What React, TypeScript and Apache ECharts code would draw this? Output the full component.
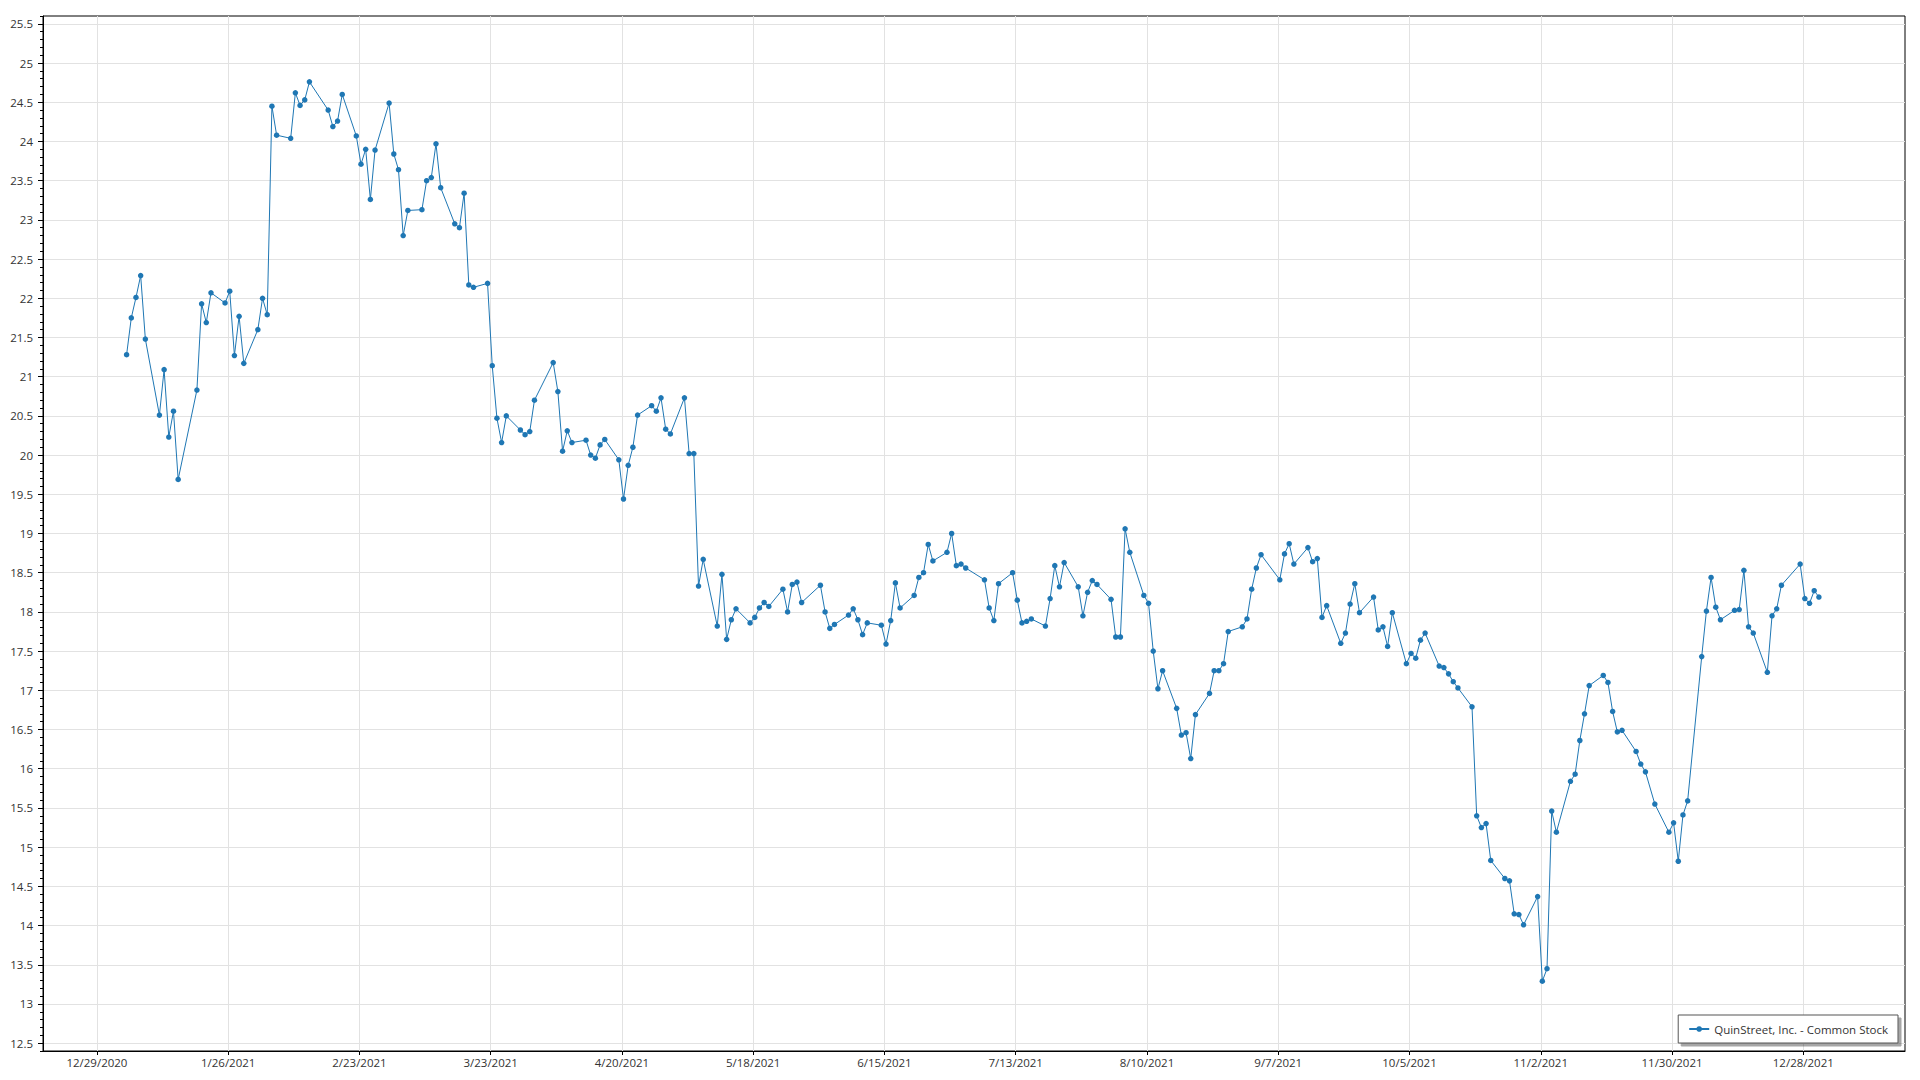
import React, { useEffect, useRef } from "react";
import * as echarts from "echarts";

const seriesName = "QuinStreet, Inc. - Common Stock";

const tradingDays = [
  "2021-01-04","2021-01-05","2021-01-06","2021-01-07","2021-01-08","2021-01-11","2021-01-12","2021-01-13","2021-01-14","2021-01-15","2021-01-19","2021-01-20","2021-01-21","2021-01-22","2021-01-25","2021-01-26","2021-01-27","2021-01-28","2021-01-29",
  "2021-02-01","2021-02-02","2021-02-03","2021-02-04","2021-02-05","2021-02-08","2021-02-09","2021-02-10","2021-02-11","2021-02-12","2021-02-16","2021-02-17","2021-02-18","2021-02-19","2021-02-22","2021-02-23","2021-02-24","2021-02-25","2021-02-26",
  "2021-03-01","2021-03-02","2021-03-03","2021-03-04","2021-03-05","2021-03-08","2021-03-09","2021-03-10","2021-03-11","2021-03-12","2021-03-15","2021-03-16","2021-03-17","2021-03-18","2021-03-19","2021-03-22","2021-03-23","2021-03-24","2021-03-25","2021-03-26","2021-03-29","2021-03-30","2021-03-31",
  "2021-04-01","2021-04-05","2021-04-06","2021-04-07","2021-04-08","2021-04-09","2021-04-12","2021-04-13","2021-04-14","2021-04-15","2021-04-16","2021-04-19","2021-04-20","2021-04-21","2021-04-22","2021-04-23","2021-04-26","2021-04-27","2021-04-28","2021-04-29","2021-04-30",
  "2021-05-03","2021-05-04","2021-05-05","2021-05-06","2021-05-07","2021-05-10","2021-05-11","2021-05-12","2021-05-13","2021-05-14","2021-05-17","2021-05-18","2021-05-19","2021-05-20","2021-05-21","2021-05-24","2021-05-25","2021-05-26","2021-05-27","2021-05-28",
  "2021-06-01","2021-06-02","2021-06-03","2021-06-04","2021-06-07","2021-06-08","2021-06-09","2021-06-10","2021-06-11","2021-06-14","2021-06-15","2021-06-16","2021-06-17","2021-06-18","2021-06-21","2021-06-22","2021-06-23","2021-06-24","2021-06-25","2021-06-28","2021-06-29","2021-06-30",
  "2021-07-01","2021-07-02","2021-07-06","2021-07-07","2021-07-08","2021-07-09","2021-07-12","2021-07-13","2021-07-14","2021-07-15","2021-07-16","2021-07-19","2021-07-20","2021-07-21","2021-07-22","2021-07-23","2021-07-26","2021-07-27","2021-07-28","2021-07-29","2021-07-30",
  "2021-08-02","2021-08-03","2021-08-04","2021-08-05","2021-08-06","2021-08-09","2021-08-10","2021-08-11","2021-08-12","2021-08-13","2021-08-16","2021-08-17","2021-08-18","2021-08-19","2021-08-20","2021-08-23","2021-08-24","2021-08-25","2021-08-26","2021-08-27","2021-08-30","2021-08-31",
  "2021-09-01","2021-09-02","2021-09-03","2021-09-07","2021-09-08","2021-09-09","2021-09-10","2021-09-13","2021-09-14","2021-09-15","2021-09-16","2021-09-17","2021-09-20","2021-09-21","2021-09-22","2021-09-23","2021-09-24","2021-09-27","2021-09-28","2021-09-29","2021-09-30",
  "2021-10-01","2021-10-04","2021-10-05","2021-10-06","2021-10-07","2021-10-08","2021-10-11","2021-10-12","2021-10-13","2021-10-14","2021-10-15","2021-10-18","2021-10-19","2021-10-20","2021-10-21","2021-10-22","2021-10-25","2021-10-26","2021-10-27","2021-10-28","2021-10-29",
  "2021-11-01","2021-11-02","2021-11-03","2021-11-04","2021-11-05","2021-11-08","2021-11-09","2021-11-10","2021-11-11","2021-11-12","2021-11-15","2021-11-16","2021-11-17","2021-11-18","2021-11-19","2021-11-22","2021-11-23","2021-11-24","2021-11-26","2021-11-29","2021-11-30",
  "2021-12-01","2021-12-02","2021-12-03","2021-12-06","2021-12-07","2021-12-08","2021-12-09","2021-12-10","2021-12-13","2021-12-14","2021-12-15","2021-12-16","2021-12-17","2021-12-20","2021-12-21","2021-12-22","2021-12-23","2021-12-27","2021-12-28","2021-12-29","2021-12-30","2021-12-31",
];

const closePrices = [
  21.28, 21.75, 22.01, 22.29, 21.48, 20.51, 21.09, 20.23, 20.56, 19.69, 20.83, 21.93, 21.69, 22.07, 21.94, 22.09, 21.27, 21.77, 21.17,
  21.60, 22.00, 21.79, 24.45, 24.08, 24.04, 24.62, 24.46, 24.53, 24.76, 24.40, 24.19, 24.26, 24.60, 24.07, 23.71, 23.90, 23.26, 23.89,
  24.49, 23.84, 23.64, 22.80, 23.12, 23.13, 23.50, 23.54, 23.97, 23.41, 22.95, 22.90, 23.34, 22.17, 22.14, 22.19, 21.14, 20.47, 20.16, 20.50, 20.32, 20.26, 20.30,
  20.70, 21.18, 20.81, 20.05, 20.31, 20.16, 20.19, 20.00, 19.96, 20.13, 20.20, 19.94, 19.44, 19.87, 20.10, 20.51, 20.63, 20.56, 20.73, 20.33, 20.27,
  20.73, 20.02, 20.02, 18.33, 18.67, 17.82, 18.48, 17.65, 17.90, 18.04, 17.86, 17.93, 18.05, 18.12, 18.07, 18.29, 18.00, 18.35, 18.38, 18.12,
  18.34, 18.00, 17.79, 17.84, 17.96, 18.04, 17.90, 17.71, 17.86, 17.83, 17.59, 17.89, 18.37, 18.05, 18.21, 18.44, 18.50, 18.86, 18.65, 18.76, 19.00, 18.59,
  18.61, 18.56, 18.41, 18.05, 17.89, 18.36, 18.50, 18.15, 17.86, 17.88, 17.91, 17.82, 18.17, 18.59, 18.32, 18.63, 18.32, 17.95, 18.25, 18.40, 18.35,
  18.16, 17.68, 17.68, 19.06, 18.76, 18.21, 18.11, 17.50, 17.02, 17.25, 16.77, 16.43, 16.46, 16.13, 16.69, 16.96, 17.25, 17.25, 17.34, 17.75, 17.81, 17.91,
  18.29, 18.56, 18.73, 18.41, 18.74, 18.87, 18.61, 18.82, 18.64, 18.68, 17.93, 18.08, 17.60, 17.73, 18.10, 18.36, 17.99, 18.19, 17.77, 17.81, 17.56,
  17.99, 17.34, 17.47, 17.41, 17.64, 17.73, 17.31, 17.29, 17.21, 17.11, 17.03, 16.79, 15.40, 15.25, 15.30, 14.83, 14.60, 14.57, 14.15, 14.14, 14.01,
  14.37, 13.29, 13.45, 15.46, 15.19, 15.84, 15.93, 16.36, 16.70, 17.06, 17.19, 17.10, 16.73, 16.47, 16.49, 16.22, 16.06, 15.96, 15.55, 15.19, 15.31,
  14.82, 15.41, 15.59, 17.43, 18.01, 18.44, 18.06, 17.90, 18.02, 18.03, 18.53, 17.81, 17.73, 17.23, 17.95, 18.04, 18.34, 18.61, 18.17, 18.11, 18.27, 18.19,
];

const xTickLabels = [
  "12/29/2020", "1/26/2021", "2/23/2021", "3/23/2021", "4/20/2021", "5/18/2021", "6/15/2021",
  "7/13/2021", "8/10/2021", "9/7/2021", "10/5/2021", "11/2/2021", "11/30/2021", "12/28/2021",
];

const yTickValues = [
  12.5, 13, 13.5, 14, 14.5, 15, 15.5, 16, 16.5, 17, 17.5, 18, 18.5, 19,
  19.5, 20, 20.5, 21, 21.5, 22, 22.5, 23, 23.5, 24, 24.5, 25, 25.5,
];

// visible y range (slightly padded around the labelled ticks)
const Y_MIN = 12.4;
const Y_MAX = 25.6;
const Y_MINOR_STEP = 0.1;

// x axis in days since 12/29/2020; samples sit ~8h into the day
const DAY_MS = 86400000;
const ORIGIN = Date.UTC(2020, 11, 29);
const SAMPLE_OFFSET = 1 / 3;
const X_MIN = -11.5;
const X_MAX = 385.7;

const isoToDay = (iso: string) => {
  const [y, m, d] = iso.split("-").map(Number);
  return (Date.UTC(y, m - 1, d) - ORIGIN) / DAY_MS;
};
const labelToDay = (s: string) => {
  const [m, d, y] = s.split("/").map(Number);
  return (Date.UTC(y, m - 1, d) - ORIGIN) / DAY_MS;
};

const FONT = "'Open Sans', 'Noto Sans', sans-serif";
const BLUE = "#1f77b4";
const GRID = "#e2e2e2";

export default function App() {
  const ref = useRef<HTMLDivElement>(null);

  useEffect(() => {
    if (!ref.current) return;
    const chart = echarts.init(ref.current, null, { renderer: "svg" });
    const tickValues = xTickLabels.map(labelToDay);
    const data = tradingDays.map((d, i) => [isoToDay(d) + SAMPLE_OFFSET, closePrices[i]]);

    chart.setOption({
      animation: false,
      backgroundColor: "#ffffff",
      textStyle: { fontFamily: FONT },
      grid: {
        left: 43,
        right: 15,
        top: 16,
        bottom: 29,
        show: true,
        borderColor: "#000",
        borderWidth: 1,
        backgroundColor: "transparent",
        outerBoundsMode: "none",
      },
      legend: {
        right: 22,
        bottom: 37,
        orient: "horizontal",
        backgroundColor: "#ffffff",
        borderColor: "#555555",
        borderWidth: 1,
        borderRadius: 0,
        padding: [8, 10, 8, 10],
        itemWidth: 20,
        itemHeight: 7,
        shadowColor: "rgba(0,0,0,0.35)",
        shadowOffsetX: 3,
        shadowOffsetY: 3,
        shadowBlur: 0,
        textStyle: { fontFamily: FONT, fontSize: 11.5, color: "#333" },
        data: [seriesName],
      },
      xAxis: {
        type: "value",
        min: X_MIN,
        max: X_MAX,
        axisLine: { show: true, onZero: false, lineStyle: { color: "#000", width: 1 } },
        axisTick: {
          show: true,
          length: 4,
          customValues: tickValues,
          lineStyle: { color: "#000" },
        },
        axisLabel: {
          customValues: tickValues,
          margin: 5,
          color: "#333",
          fontFamily: FONT,
          fontSize: 11.5,
          formatter: (v: number) => {
            const idx = tickValues.findIndex((t) => Math.abs(t - v) < 1e-6);
            return idx >= 0 ? xTickLabels[idx] : "";
          },
        },
        splitLine: { show: true, lineStyle: { color: GRID, width: 1 } },
      },
      yAxis: [
        {
          type: "value",
          min: Y_MIN,
          max: Y_MAX,
          position: "left",
          axisLine: { show: true, onZero: false, lineStyle: { color: "#000", width: 1 } },
          axisTick: {
            show: true,
            length: 5,
            customValues: yTickValues,
            lineStyle: { color: "#000" },
          },
          axisLabel: {
            customValues: yTickValues,
            margin: 10,
            color: "#333",
            fontFamily: FONT,
            fontSize: 11.5,
            formatter: (v: number) => String(Math.round(v * 10) / 10),
          },
          splitLine: { show: true, lineStyle: { color: GRID, width: 1 } },
        },
        {
          // minor ticks every 0.1
          type: "value",
          min: Y_MIN,
          max: Y_MAX,
          interval: Y_MINOR_STEP,
          position: "left",
          axisLine: { show: false, onZero: false },
          axisTick: { show: true, length: 3, lineStyle: { color: "#000" } },
          axisLabel: { show: false },
          splitLine: { show: false },
        },
      ],
      series: [
        {
          name: seriesName,
          type: "line",
          yAxisIndex: 0,
          data,
          symbol: "circle",
          symbolSize: 5.5,
          showSymbol: true,
          showAllSymbol: true,
          itemStyle: { color: BLUE, borderWidth: 0 },
          lineStyle: { color: BLUE, width: 1 },
          emphasis: { disabled: true },
        },
      ],
    });

    return () => chart.dispose();
  }, []);

  return (
    <div
      ref={ref}
      style={{ position: "fixed", left: 0, top: 0, width: 1920, height: 1080 }}
    />
  );
}
